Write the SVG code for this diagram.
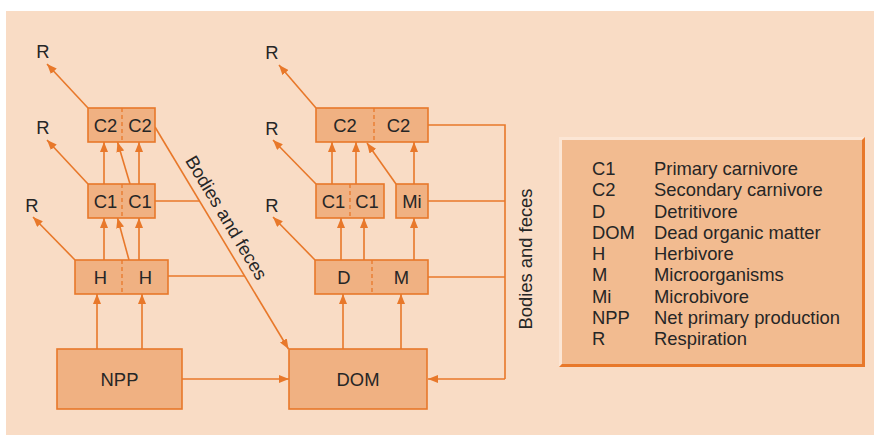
<svg xmlns="http://www.w3.org/2000/svg" width="874" height="435" viewBox="0 0 874 435">
<defs>
<marker id="ah" viewBox="0 0 10 8" refX="10" refY="4" markerWidth="10" markerHeight="8" orient="auto" markerUnits="userSpaceOnUse">
<path d="M0,0 L10,4 L0,8 z" fill="#E8782A"/>
</marker>
<style>
.box{fill:#F0B182;stroke:#E8782A;stroke-width:1.6}
.div{stroke:#E8782A;stroke-width:1.3;stroke-dasharray:4,3}
.ln{fill:none;stroke:#E8782A;stroke-width:1.6}
.ar{fill:none;stroke:#E8782A;stroke-width:1.6;marker-end:url(#ah)}
text{font-family:"Liberation Sans",Arial,sans-serif;font-size:18.4px;fill:#262626}
.c{text-anchor:middle}
</style>
</defs>
<rect x="6" y="11" width="868" height="424" fill="#F9DCC5"/>

<g id="connectors">
<line class="ar" x1="88" y1="108" x2="47" y2="64"/>
<line class="ar" x1="88" y1="184" x2="47" y2="140"/>
<line class="ar" x1="75" y1="260" x2="33" y2="217"/>
<line class="ar" x1="316" y1="108" x2="279" y2="65"/>
<line class="ar" x1="316" y1="184" x2="273" y2="140"/>
<line class="ar" x1="315" y1="260" x2="273" y2="217"/>
<line class="ar" x1="97" y1="349" x2="97" y2="294"/>
<line class="ar" x1="142" y1="349" x2="142" y2="294"/>
<line class="ar" x1="104" y1="260" x2="104" y2="218"/>
<line class="ar" x1="129" y1="260" x2="117.5" y2="218"/>
<line class="ar" x1="139" y1="260" x2="139" y2="218"/>
<line class="ar" x1="104" y1="184" x2="104" y2="142"/>
<line class="ar" x1="130" y1="184" x2="117.5" y2="142"/>
<line class="ar" x1="139" y1="184" x2="139" y2="142"/>
<line class="ar" x1="343" y1="349" x2="343" y2="294"/>
<line class="ar" x1="401" y1="349" x2="401" y2="294"/>
<line class="ar" x1="341" y1="260" x2="341" y2="218"/>
<line class="ar" x1="364" y1="260" x2="364" y2="218"/>
<line class="ar" x1="414" y1="260" x2="414" y2="218"/>
<line class="ar" x1="332" y1="184" x2="332" y2="142"/>
<line class="ar" x1="356" y1="184" x2="356" y2="142"/>
<line class="ar" x1="396" y1="184" x2="367" y2="143"/>
<line class="ar" x1="414" y1="184" x2="414" y2="142"/>
<line class="ar" x1="182" y1="379" x2="289" y2="379"/>
<line class="ar" x1="155" y1="127" x2="288.5" y2="349"/>
<line class="ln" x1="155" y1="201" x2="199.5" y2="201"/>
<line class="ln" x1="168" y1="276" x2="244.5" y2="276"/>
<polyline class="ln" points="428,125 505,125 505,379"/>
<line class="ln" x1="428" y1="201" x2="505" y2="201"/>
<line class="ln" x1="428" y1="277" x2="505" y2="277"/>
<line class="ar" x1="505" y1="379" x2="428" y2="379"/>
<text class="c" transform="translate(221,221) rotate(59.07)">Bodies and feces</text>
<text class="c" transform="translate(531.5,259) rotate(-90)">Bodies and feces</text>
</g>

<g id="R-labels">
<text class="c" x="43" y="58">R</text>
<text class="c" x="43" y="134">R</text>
<text class="c" x="32" y="212">R</text>
<text class="c" x="272" y="59">R</text>
<text class="c" x="272" y="135">R</text>
<text class="c" x="272" y="212">R</text>
</g>

<g id="left-C2">
<rect class="box" x="88" y="108" width="67" height="34"/>
<line class="div" x1="122" y1="108" x2="122" y2="142"/>
<text class="c" x="105.5" y="131.5">C2</text>
<text class="c" x="140" y="131.5">C2</text>
</g>
<g id="left-C1">
<rect class="box" x="88" y="184" width="67" height="34"/>
<line class="div" x1="122" y1="184" x2="122" y2="218"/>
<text class="c" x="105.5" y="207.5">C1</text>
<text class="c" x="140" y="207.5">C1</text>
</g>
<g id="left-H">
<rect class="box" x="75" y="260" width="93" height="34"/>
<line class="div" x1="122" y1="260" x2="122" y2="294"/>
<text class="c" x="100.5" y="283.5">H</text>
<text class="c" x="145.5" y="283.5">H</text>
</g>
<g id="NPP">
<rect class="box" x="57" y="349" width="125" height="60"/>
<text class="c" x="119.5" y="385.5">NPP</text>
</g>
<g id="DOM">
<rect class="box" x="289" y="349" width="138" height="60"/>
<text class="c" x="358" y="385.5">DOM</text>
</g>
<g id="right-C2">
<rect class="box" x="316" y="108" width="112" height="34"/>
<line class="div" x1="374" y1="108" x2="374" y2="142"/>
<text class="c" x="345" y="131.5">C2</text>
<text class="c" x="398.5" y="131.5">C2</text>
</g>
<g id="right-C1">
<rect class="box" x="316" y="184" width="68" height="34"/>
<line class="div" x1="350" y1="184" x2="350" y2="218"/>
<text class="c" x="333.5" y="207.5">C1</text>
<text class="c" x="367" y="207.5">C1</text>
</g>
<g id="Mi">
<rect class="box" x="396" y="184" width="32" height="34"/>
<text class="c" x="412" y="207.5">Mi</text>
</g>
<g id="DM">
<rect class="box" x="315" y="260" width="113" height="34"/>
<line class="div" x1="372" y1="260" x2="372" y2="294"/>
<text class="c" x="344" y="283.5">D</text>
<text class="c" x="401.5" y="283.5">M</text>
</g>

<g id="legend">
<rect x="559" y="137" width="306" height="230" fill="#F2BB90"/>
<path d="M559,367 L559,137 L865,137 L862,140 L562,140 L562,364 z" fill="#FCE6D5"/>
<path d="M865,137 L865,367 L559,367 L562,364 L862,364 L862,140 z" fill="#E8782A"/>
<g style="font-size:18.6px">
<text x="592" y="175">C1</text><text x="654" y="175">Primary carnivore</text>
<text x="592" y="196.25">C2</text><text x="654" y="196.25">Secondary carnivore</text>
<text x="592" y="217.5">D</text><text x="654" y="217.5">Detritivore</text>
<text x="592" y="238.75">DOM</text><text x="654" y="238.75">Dead organic matter</text>
<text x="592" y="260">H</text><text x="654" y="260">Herbivore</text>
<text x="592" y="281.25">M</text><text x="654" y="281.25">Microorganisms</text>
<text x="592" y="302.5">Mi</text><text x="654" y="302.5">Microbivore</text>
<text x="592" y="323.75">NPP</text><text x="654" y="323.75">Net primary production</text>
<text x="592" y="345">R</text><text x="654" y="345">Respiration</text>
</g>
</g>
</svg>
